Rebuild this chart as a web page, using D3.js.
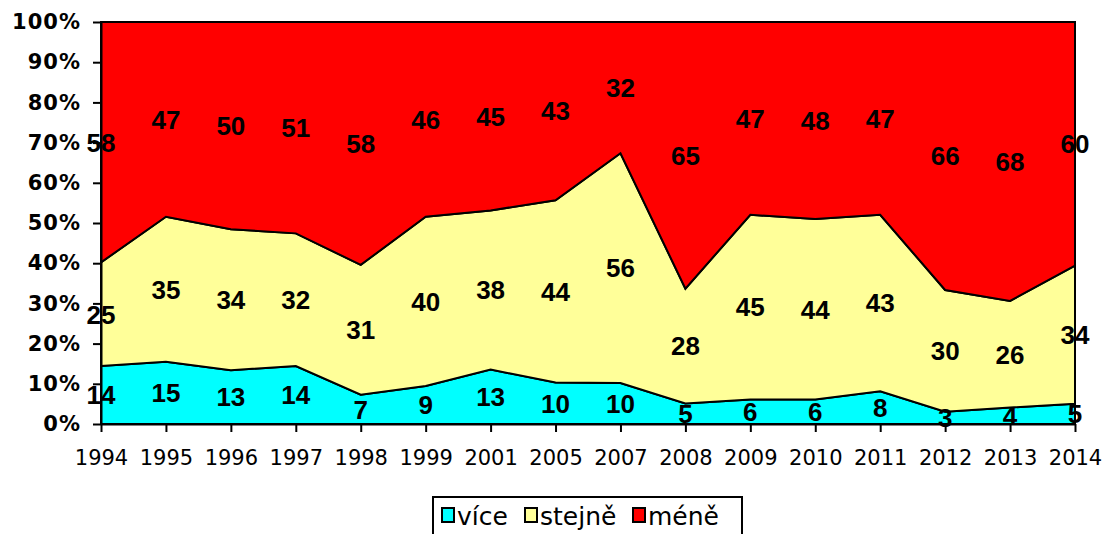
<!DOCTYPE html>
<html>
<head>
<meta charset="utf-8">
<script src="https://cdn.jsdelivr.net/npm/d3@7"></script>
<style>
  body { margin: 0; background: #fff; }
  svg { display: block; font-family: "DejaVu Sans", Verdana, sans-serif; }
</style>
</head>
<body>
<div id="chart"></div>
<script>
// data
var years = ["1994", "1995", "1996", "1997", "1998", "1999", "2001", "2005",
  "2007", "2008", "2009", "2010", "2011", "2012", "2013", "2014"];
var vice   = [14, 15, 13, 14, 7, 9, 13, 10, 10, 5, 6, 6, 8, 3, 4, 5];
var stejne = [25, 35, 34, 32, 31, 40, 38, 44, 56, 28, 45, 44, 43, 30, 26, 34];
var mene   = [58, 47, 50, 51, 58, 46, 45, 43, 32, 65, 47, 48, 47, 66, 68, 60];
var seriesNames = ["více", "stejně", "méně"];
var seriesColors = ["#00ffff", "#ffff99", "#ff0000"];

var svgWidth = 1103;
var svgHeight = 534;
var plot = { left: 101, right: 1075, top: 22, bottom: 424 };

var svg = d3.select("#chart")
  .append("svg")
  .attr("width", svgWidth)
  .attr("height", svgHeight);

var rows = years.map(function(y, i) {
  return { year: y, "více": vice[i], "stejně": stejne[i], "méně": mene[i] };
});

var stacked = d3.stack()
  .keys(seriesNames)
  .offset(d3.stackOffsetExpand)(rows);

var x = d3.scalePoint()
  .domain(years)
  .range([plot.left, plot.right]);

var y = d3.scaleLinear()
  .domain([0, 1])
  .range([plot.bottom, plot.top]);

var area = d3.area()
  .x(function(d) { return x(d.data.year); })
  .y0(function(d) { return y(d[0]); })
  .y1(function(d) { return y(d[1]); });

// areas
svg.append("g")
  .selectAll("path")
  .data(stacked)
  .enter()
  .append("path")
  .attr("d", area)
  .attr("fill", function(d, i) { return seriesColors[i]; })
  .attr("stroke", "#000")
  .attr("stroke-width", 2)
  .attr("stroke-linejoin", "miter");

// axes
var leftAxis = d3.axisLeft(y)
  .tickValues(d3.range(0, 1.01, 0.1))
  .tickFormat(d3.format(".0%"))
  .tickSizeInner(8)
  .tickSizeOuter(0)
  .tickPadding(12);

var yAxis = svg.append("g")
  .attr("transform", "translate(" + plot.left + ",0)")
  .call(leftAxis);
yAxis.select(".domain").attr("stroke-width", 2);
yAxis.selectAll(".tick line").attr("stroke-width", 2);
yAxis.selectAll("text")
  .attr("font-size", 21)
  .attr("font-weight", "bold")
  .attr("letter-spacing", 1)
  .attr("fill", "#000")
  .attr("font-family", "DejaVu Sans");

var bottomAxis = d3.axisBottom(x)
  .tickSizeInner(8)
  .tickSizeOuter(0)
  .tickPadding(18);

var xAxis = svg.append("g")
  .attr("transform", "translate(0," + plot.bottom + ")")
  .call(bottomAxis);
xAxis.select(".domain").attr("stroke-width", 2);
xAxis.selectAll(".tick line").attr("stroke-width", 2);
xAxis.selectAll("text")
  .attr("font-size", 21)
  .attr("fill", "#000")
  .attr("font-family", "DejaVu Sans");

// value labels, centred in each band
stacked.forEach(function(layer) {
  svg.append("g")
    .selectAll("text")
    .data(layer)
    .enter()
    .append("text")
    .attr("x", function(d) { return x(d.data.year); })
    .attr("y", function(d) { return y((d[0] + d[1]) / 2); })
    .attr("dy", "0.36em")
    .attr("text-anchor", "middle")
    .attr("font-family", "Liberation Sans, Arial, sans-serif")
    .attr("font-size", 26)
    .attr("font-weight", "bold")
    .text(function(d) { return d.data[layer.key]; });
});

// legend
var legend = svg.append("g")
  .attr("transform", "translate(433,497)");

legend.append("rect")
  .attr("width", 309)
  .attr("height", 45)
  .attr("fill", "#fff")
  .attr("stroke", "#000")
  .attr("stroke-width", 2);

var legendX = [9, 92, 200];
seriesNames.forEach(function(name, i) {
  var item = legend.append("g")
    .attr("transform", "translate(" + legendX[i] + ",11)");
  item.append("rect")
    .attr("width", 12)
    .attr("height", 14)
    .attr("fill", seriesColors[i])
    .attr("stroke", "#000")
    .attr("stroke-width", 2);
  item.append("text")
    .attr("x", 15)
    .attr("y", 17)
    .attr("font-size", 25)
    .text(name);
});
</script>
</body>
</html>
